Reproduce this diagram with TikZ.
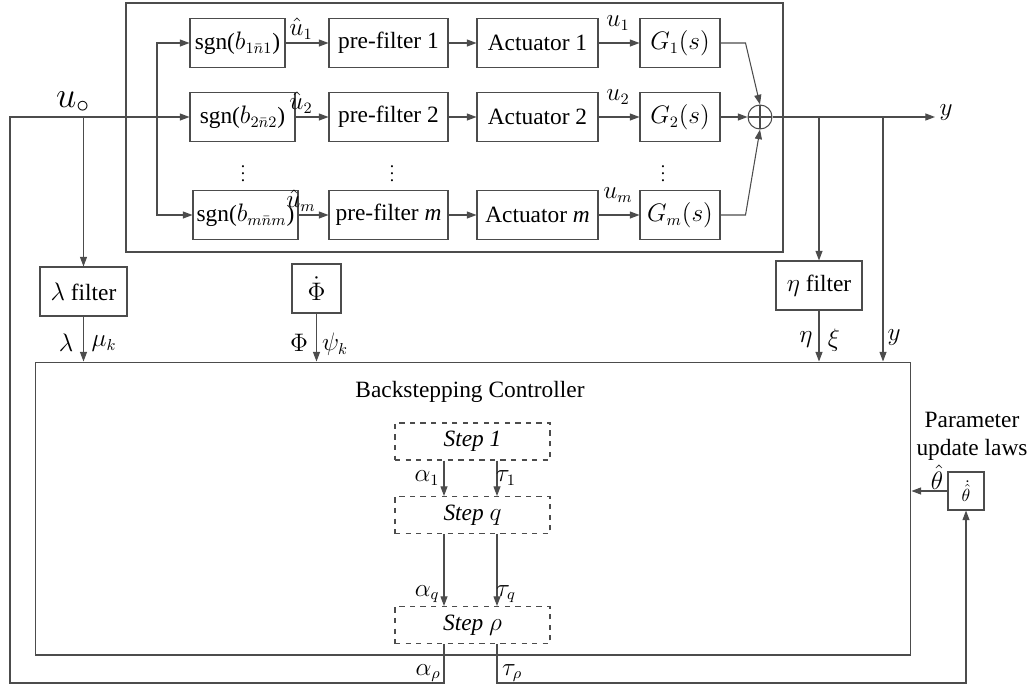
\documentclass[tikz,border=0pt]{standalone}
\usepackage{fontspec}
\setmainfont{Liberation Serif}
\usepackage{amsmath}
\usetikzlibrary{arrows.meta}

\tikzset{
    wire/.style={draw=black!70, line width=0.6pt},
    sig/.style={wire, -{Triangle[length=5.5pt,width=4pt]}},
    blk/.style={draw=black!70, line width=0.6pt, minimum height=0.98cm, inner sep=1pt, font=\fontsize{13.3}{16}\selectfont},
    stepbox/.style={draw=black!70, dashed, line width=0.6pt, minimum width=3.1cm, minimum height=0.74cm, font=\fontsize{13.3}{16}\selectfont\itshape},
    sumnode/.style={draw=black!70, circle, line width=0.6pt, minimum size=0.48cm, inner sep=0pt,
        path picture={\draw[black!70, line width=0.6pt] (path picture bounding box.north) -- (path picture bounding box.south)
            (path picture bounding box.west) -- (path picture bounding box.east);}},
    lbl/.style={inner sep=1pt, font=\fontsize{13.3}{16}\selectfont},
}

\begin{document}
\begin{tikzpicture}[x=0.02cm, y=-0.02cm]
            \useasboundingbox (0,0) rectangle (1035,697);
            \draw[wire] (126,3) rectangle (783,252);

            \node[blk, minimum width=1.9cm] (sgn1) at (237.5,43) {sgn($b_{1\bar n1}$)};
            \node[blk, minimum width=2.1cm] (sgn2) at (242.5,117) {sgn($b_{2\bar n2}$)};
            \node[blk, minimum width=2.1cm] (sgnm) at (245.5,215) {sgn($b_{m\bar nm}$)};
            \foreach \r/\yy/\lab in {1/43/1, 2/117/2, m/215/\textit{m}} {
                \node[blk, minimum width=2.38cm] (pre\r) at (388.5,\yy) {pre-filter \lab};
                \node[blk, minimum width=2.42cm] (act\r) at (537.5,\yy) {Actuator \lab};
                \node[blk, minimum width=1.6cm] (G\r) at (680,\yy) {$G_{\r}(s)$};
                \draw[sig] (sgn\r.east) -- (pre\r.west);
                \draw[sig] (pre\r.east) -- (act\r.west);
                \draw[sig] (act\r.east) -- (G\r.west);
                \node[lbl] (uh\r) at (301,\yy-14) {$\hat{u}_{\r}$};
                \node[lbl] (u\r) at (618,\yy-20) {$u_{\r}$};
            }
            \node at (243,168) {$\vdots$};
            \node at (392,168) {$\vdots$};
            \node at (663,168) {$\vdots$};

            \node[sumnode] (sum) at (760,117) {};
            \draw[sig] (G1.east) -- ++(25,0) -- (sum.north);
            \draw[sig] (G2.east) -- (sum.west);
            \draw[sig] (Gm.east) -- ++(25,0) -- (sum.south);
            \coordinate (yend) at (935,117);
            \node[lbl] (ylab) at (946,113) {$y$};
            \draw[sig] (sum.east) -- (yend);

            \node[blk, minimum width=1.74cm] (lam) at (83.5,291.5) {$\lambda$ filter};
            \node[blk, minimum width=0.98cm] (phi) at (316.5,288.5) {$\dot{\Phi}$};
            \node[blk, minimum width=1.72cm] (eta) at (819,285.5) {$\eta$ filter};
            \node[draw=black!70, line width=0.6pt, minimum width=17.52cm, minimum height=5.86cm] (ctrl) at (473,508.5) {};
            \node[lbl] (bct) at (470,392) {Backstepping Controller};

            \node[stepbox] (st1) at (472.5,441.5) {Step 1};
            \node[stepbox] (stq) at (472.5,515) {Step $q$};
            \node[stepbox] (stp) at (472.5,625) {Step $\rho$};
            \node[draw=black!70, line width=0.6pt, minimum width=0.72cm, minimum height=0.76cm, inner sep=0pt] (th) at (966,491) {$\dot{\hat{\theta}}$};
            \node[lbl, align=center, font=\fontsize{13.3}{15.8}\selectfont] (pul) at (972,436) {Parameter\\update laws};

            \coordinate (uo) at (10,117);
            \coordinate (dist) at (157,117);
            \coordinate (fb) at (10,683);
            \coordinate (xa) at (444,0);
            \coordinate (xt) at (497,0);
            \coordinate (yb) at (883,117);
            \node[inner sep=0pt, font=\fontsize{21}{21}\selectfont] (uolab) at (73,102) {$u_{\circ}$};

            \draw[sig] (xa |- stp.south) -- (xa |- fb) -- (fb) -- (uo) -- (sgn2.west);
            \draw[sig] (dist) |- (sgn1.west);
            \draw[sig] (dist) |- (sgnm.west);
            \draw[sig] (lam |- uo) -- (lam.north);
            \draw[sig] (eta |- sum) -- (eta.north);
            \draw[sig] (yb) -- (yb |- ctrl.north);
            \draw[sig] (lam.south) -- (lam.south |- ctrl.north);
            \draw[sig] (phi.south) -- (phi.south |- ctrl.north);
            \draw[sig] (eta.south) -- (eta.south |- ctrl.north);
            \draw[sig] (xa |- st1.south) -- (xa |- stq.north);
            \draw[sig] (xt |- st1.south) -- (xt |- stq.north);
            \draw[sig] (xa |- stq.south) -- (xa |- stp.north);
            \draw[sig] (xt |- stq.south) -- (xt |- stp.north);
            \draw[sig] (xt |- stp.south) -- (xt |- fb) -- (th |- fb) -- (th.south);
            \draw[sig] (th.west) -- (th.west -| ctrl.east);

            \node[lbl] (llam) at (66,343) {$\lambda$};
            \node[lbl] (lmu) at (104,344) {$\mu_k$};
            \node[lbl] (lphi) at (299,343) {$\Phi$};
            \node[lbl] (lpsi) at (335,344) {$\psi_k$};
            \node[lbl] (leta) at (806,340) {$\eta$};
            \node[lbl] (lxi) at (834,340) {$\xi$};
            \node[lbl] (ly) at (894,338) {$y$};
            \node[lbl] (la1) at (427,478) {$\alpha_1$};
            \node[lbl] (lt1) at (506,478) {$\tau_1$};
            \node[lbl] (laq) at (427,594) {$\alpha_q$};
            \node[lbl] (ltq) at (506,594) {$\tau_q$};
            \node[lbl] (lap) at (428,673) {$\alpha_\rho$};
            \node[lbl] (ltp) at (512,673) {$\tau_\rho$};
            \node[lbl] (lth) at (937,477) {$\hat{\theta}$};
        \end{tikzpicture}
\end{document}
